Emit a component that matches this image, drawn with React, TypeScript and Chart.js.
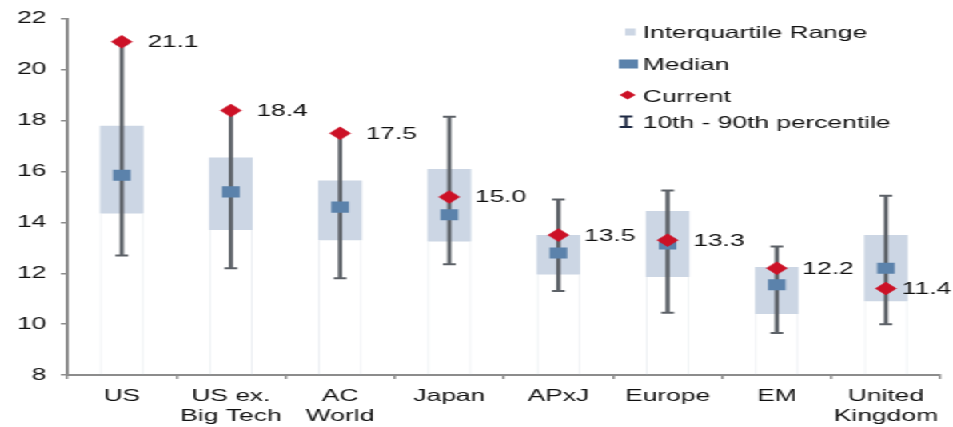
import React, { useEffect, useRef } from 'react';
import { Chart, registerables } from 'chart.js';

Chart.register(...registerables);

// ---- data ----
const categories: string[][] = [
  ['US'],
  ['US ex.', 'Big Tech'],
  ['AC', 'World'],
  ['Japan'],
  ['APxJ'],
  ['Europe'],
  ['EM'],
  ['United', 'Kingdom'],
];
const p10 = [12.7, 12.2, 11.8, 12.35, 11.3, 10.45, 9.65, 10.0];
const q1 = [14.35, 13.7, 13.3, 13.25, 11.95, 11.85, 10.4, 10.9];
const median = [15.85, 15.2, 14.6, 14.3, 12.8, 13.15, 11.55, 12.2];
const q3 = [17.8, 16.55, 15.65, 16.1, 13.5, 14.45, 12.25, 13.5];
const p90 = [21.0, 18.35, 17.45, 18.15, 14.9, 15.25, 13.05, 15.05];
const current = [21.1, 18.4, 17.5, 15.0, 13.5, 13.3, 12.2, 11.4];
const yMin = 8;
const yMax = 22;
const yStep = 2;
const legendLabels = ['Interquartile Range', 'Median', 'Current', '10th - 90th percentile'];

// ---- styles ----
const W = 596;
const H = 427;
const S = 953 / W;
const FONT = '"Liberation Sans", Arial, sans-serif';
const FS = 16.5;
const TEXT = '#111111';
const IQR_COLOR = '#ccd6e4';
const MED_COLOR = '#5b82ab';
const CUR_COLOR = '#cc1126';
const WHISK_COLOR = '#5c6167';
const AXIS_COLOR = '#8c8c8c';

const labelPlugin = {
  id: 'currentLabels',
  afterDatasetsDraw(chart: any) {
    const idx = chart.data.datasets.findIndex((d: any) => d.label === 'Current');
    const meta = chart.getDatasetMeta(idx);
    const ctx = chart.ctx;
    ctx.save();
    ctx.font = `${FS}px ${FONT}`;
    ctx.fillStyle = TEXT;
    ctx.textBaseline = 'middle';
    ctx.textAlign = 'left';
    meta.data.forEach((pt: any, i: number) => {
      const txt = current[i].toFixed(1);
      const w = ctx.measureText(txt).width;
      let x = pt.x + 16;
      if (x + w > chart.width - 1) x = chart.width - 1 - w;
      ctx.fillText(txt, x, pt.y + 1);
    });
    ctx.restore();
  },
};

const legendPlugin = {
  id: 'customLegend',
  afterDraw(chart: any) {
    const ctx = chart.ctx;
    ctx.save();
    const tx = 402;
    const ys = [32, 64, 96, 122];
    // IQR icon
    ctx.fillStyle = IQR_COLOR;
    ctx.fillRect(391, 28.5, 6.5, 7);
    // Median icon
    ctx.fillStyle = MED_COLOR;
    ctx.fillRect(387, 59.5, 12, 9);
    // Current icon (diamond)
    ctx.fillStyle = CUR_COLOR;
    ctx.beginPath();
    ctx.moveTo(387.5, 95);
    ctx.lineTo(392.5, 90.5);
    ctx.lineTo(397.5, 95);
    ctx.lineTo(392.5, 99.5);
    ctx.closePath();
    ctx.fill();
    // percentile icon
    ctx.strokeStyle = '#1f2a44';
    ctx.lineWidth = 2;
    ctx.beginPath();
    ctx.moveTo(391.5, 116);
    ctx.lineTo(391.5, 127.5);
    ctx.moveTo(387.5, 116.5);
    ctx.lineTo(395.5, 116.5);
    ctx.moveTo(387.5, 127);
    ctx.lineTo(395.5, 127);
    ctx.stroke();
    // texts
    ctx.font = `${FS}px ${FONT}`;
    ctx.fillStyle = TEXT;
    ctx.textBaseline = 'middle';
    ctx.textAlign = 'left';
    legendLabels.forEach((t, i) => ctx.fillText(t, tx, ys[i] + 1));
    ctx.restore();
  },
};

export default function App() {
  const ref = useRef<HTMLCanvasElement>(null);

  useEffect(() => {
    const canvas = ref.current;
    if (!canvas) return;
    const chart = new Chart(canvas, {
      type: 'bar',
      data: {
        labels: categories as any,
        datasets: [
          {
            type: 'bar',
            label: 'stripe',
            data: q1.map((v) => [yMin, v]) as any,
            backgroundColor: 'rgba(0,0,0,0)',
            borderColor: 'rgba(170,180,195,0.22)',
            borderWidth: { left: 1, right: 1, top: 0, bottom: 0 } as any,
            borderSkipped: false,
            grouped: false,
            barPercentage: 0.4,
            categoryPercentage: 1,
            order: 6,
          },
          {
            type: 'bar',
            label: 'Interquartile Range',
            data: q1.map((v, i) => [v, q3[i]]) as any,
            backgroundColor: IQR_COLOR,
            borderWidth: 0,
            grouped: false,
            barPercentage: 0.4,
            categoryPercentage: 1,
            order: 5,
          },
          {
            type: 'bar',
            label: '10th - 90th percentile',
            data: p10.map((v, i) => [v, p90[i]]) as any,
            backgroundColor: WHISK_COLOR,
            borderWidth: 0,
            grouped: false,
            barThickness: 2,
            order: 4,
          },
          {
            type: 'line',
            label: 'p10cap',
            data: p10,
            showLine: false,
            pointStyle: 'line',
            pointRadius: 4,
            pointBorderWidth: 2,
            pointBorderColor: WHISK_COLOR,
            order: 3,
          } as any,
          {
            type: 'line',
            label: 'p90cap',
            data: p90,
            showLine: false,
            pointStyle: 'line',
            pointRadius: 4,
            pointBorderWidth: 2,
            pointBorderColor: WHISK_COLOR,
            order: 3,
          } as any,
          {
            type: 'line',
            label: 'Median',
            data: median,
            showLine: false,
            pointStyle: 'rect',
            pointRadius: 7.8,
            pointBackgroundColor: MED_COLOR,
            pointBorderWidth: 0,
            pointBorderColor: MED_COLOR,
            order: 1,
          } as any,
          {
            type: 'line',
            label: 'Current',
            data: current,
            showLine: false,
            pointStyle: 'rectRot',
            pointRadius: 6.5,
            pointBackgroundColor: CUR_COLOR,
            pointBorderColor: CUR_COLOR,
            pointBorderWidth: 0.5,
            order: 0,
          } as any,
        ],
      },
      options: {
        responsive: false,
        maintainAspectRatio: false,
        animation: false,
        devicePixelRatio: 1,
        layout: { padding: { top: 8, right: 3, left: 0, bottom: 0 } },
        plugins: {
          legend: { display: false },
          tooltip: { enabled: false },
        },
        scales: {
          x: {
            type: 'category',
            offset: true,
            grid: {
              offset: true,
              drawOnChartArea: false,
              drawTicks: true,
              tickLength: 4,
              color: AXIS_COLOR,
              lineWidth: 1.5,
            },
            border: { display: true, color: AXIS_COLOR, width: 2 },
            ticks: {
              font: { family: FONT, size: FS, lineHeight: 1.22 },
              color: TEXT,
              padding: 7,
              maxRotation: 0,
              autoSkip: false,
            },
            afterFit: (s: any) => {
              s.height = 52;
            },
          },
          y: {
            type: 'linear',
            min: yMin,
            max: yMax,
            ticks: {
              stepSize: yStep,
              font: { family: FONT, size: FS },
              color: TEXT,
              padding: 9,
            },
            grid: {
              drawOnChartArea: false,
              drawTicks: true,
              tickLength: 4,
              color: AXIS_COLOR,
              lineWidth: 1.5,
            },
            border: { display: true, color: AXIS_COLOR, width: 2 },
            afterFit: (s: any) => {
              s.width = 42;
            },
          },
        },
      },
      plugins: [labelPlugin, legendPlugin],
    });
    return () => chart.destroy();
  }, []);

  return (
    <div
      style={{
        position: 'absolute',
        left: 0,
        top: 0,
        width: W,
        height: H,
        transform: `scaleX(${S})`,
        transformOrigin: '0 0',
        background: '#fff',
      }}
    >
      <canvas ref={ref} width={W} height={H} style={{ display: 'block', width: W, height: H }} />
    </div>
  );
}
